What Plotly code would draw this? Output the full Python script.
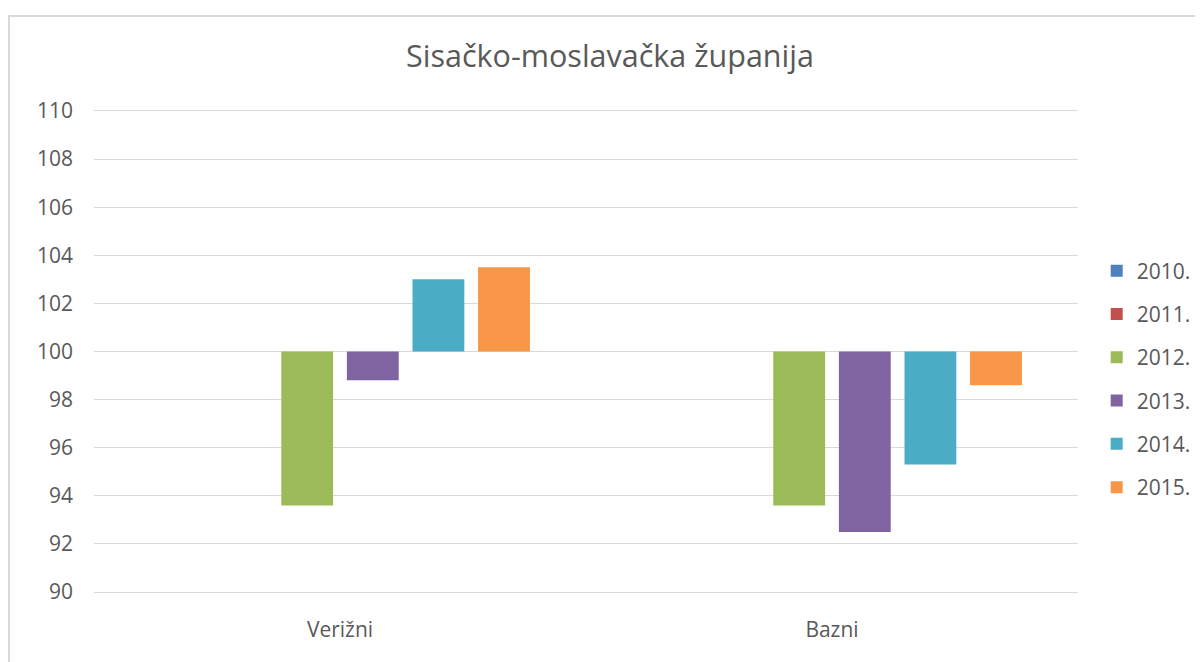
import plotly.graph_objects as go

categories = ["Verižni", "Bazni"]
years = ["2010.", "2011.", "2012.", "2013.", "2014.", "2015."]
v2010 = [100.0, 100.0]
v2011 = [100.0, 100.0]
v2012 = [93.6, 93.6]
v2013 = [98.8, 92.5]
v2014 = [103.0, 95.3]
v2015 = [103.5, 98.6]
series = [v2010, v2011, v2012, v2013, v2014, v2015]
colors = ["#4F81BD", "#C0504D", "#9BBB59", "#8064A2", "#4BACC6", "#F79646"]
y_ticks = [90, 92, 94, 96, 98, 100, 102, 104, 106, 108, 110]
BASE = 100

FONT = "Open Sans"
TXT = "#595959"
GRID = "#d9d9d9"

fig = go.Figure()
for name, vals, col in zip(years, series, colors):
    fig.add_trace(go.Bar(
        name=name,
        x=categories,
        y=[v - BASE for v in vals],
        base=BASE,
        marker=dict(color=col, line=dict(width=0)),
        legendgroup=name,
    ))

# page body adds an 8px offset, so the figure is sized to fill the rest
W, H = 1195, 654
L, R, T, B = 86, 125, 103, 70
PW, PH = W - L - R, H - T - B

fig.update_layout(
    width=W, height=H,
    margin=dict(l=L, r=R, t=T, b=B, pad=0, autoexpand=False),
    paper_bgcolor="white",
    plot_bgcolor="white",
    barmode="group",
    bargap=0.2,
    bargroupgap=0.21,
    font=dict(family=FONT, color=TXT, size=21),
    title=dict(
        text="Sisačko-moslavačka županija",
        font=dict(family=FONT, size=30.5, color=TXT),
        x=602 / W, xref="container", xanchor="center",
        y=1 - 48 / H, yref="container", yanchor="middle",
    ),
    xaxis=dict(
        type="category",
        range=[-0.5, 1.5],
        showgrid=False,
        showline=True,
        mirror=True,
        linecolor=GRID,
        linewidth=1,
        zeroline=False,
        ticks="",
        ticklabelstandoff=19,
        tickfont=dict(family=FONT, size=21, color=TXT),
    ),
    xaxis2=dict(
        overlaying="x",
        anchor="free",
        position=0.5,
        side="bottom",
        range=[-0.5, 1.5],
        tickvals=[-0.5, 0.5, 1.5],
        showticklabels=False,
        ticks="outside",
        ticklen=7,
        tickwidth=1,
        tickcolor=GRID,
        showline=True,
        linecolor=GRID,
        linewidth=1,
        showgrid=False,
        zeroline=False,
    ),
    yaxis=dict(
        range=[90, 110],
        tickvals=y_ticks,
        showgrid=True,
        gridcolor=GRID,
        gridwidth=1,
        zeroline=False,
        showline=False,
        ticks="",
        ticklabelstandoff=20,
        tickfont=dict(family=FONT, size=21, color=TXT),
    ),
    legend=dict(
        x=1.019, xanchor="left",
        y=0.71, yanchor="top",
        traceorder="grouped",
        tracegroupgap=13,
        font=dict(family=FONT, size=21, color=TXT),
        bgcolor="rgba(0,0,0,0)",
        itemclick=False,
    ),
    showlegend=True,
    shapes=[dict(
        type="rect", xref="paper", yref="paper",
        x0=(1 - L) / PW, x1=1.3,
        y0=-0.3, y1=(H - B - 8) / PH,
        line=dict(color=GRID, width=2),
        fillcolor="rgba(0,0,0,0)",
        layer="below",
    )],
)

fig.write_html("out.html")
